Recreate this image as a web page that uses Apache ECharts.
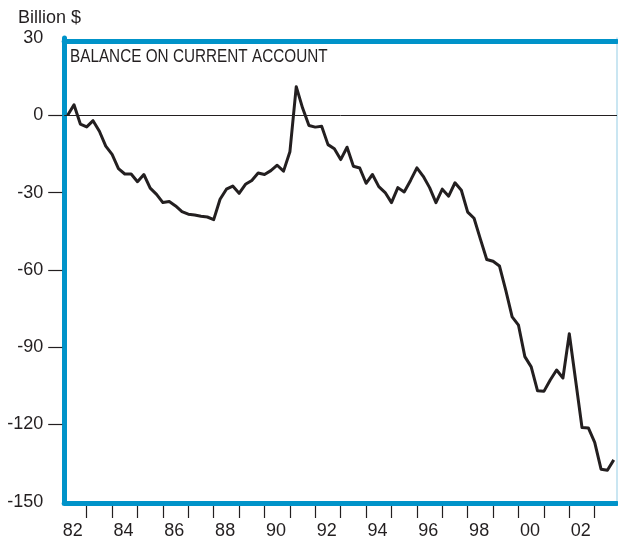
<!DOCTYPE html>
<html><head><meta charset="utf-8">
<script src="https://cdn.jsdelivr.net/npm/echarts@6/dist/echarts.min.js"></script>
<style>html,body{margin:0;padding:0;background:#fff}#c{width:618px;height:544px}</style>
</head><body><div id="c"></div>
<script>
// Quarterly balance on current account, billion $, 1982Q1 .. 2003Q3
const startYear = 1982;
const balance = [
  0.0, 4.1, -3.4, -4.5,
  -2.1, -6.2, -12.0, -15.2,
  -20.7, -22.8, -22.8, -25.8,
  -23.0, -28.3, -30.7, -33.9,
  -33.5, -35.2, -37.4, -38.4,
  -38.7, -39.2, -39.5, -40.5,
  -32.6, -28.7, -27.5, -30.3,
  -26.8, -25.3, -22.4, -23.0,
  -21.5, -19.4, -21.7, -14.2,
  11.1, 2.8, -4.0, -4.6,
  -4.3, -11.4, -13.0, -17.2,
  -12.4, -19.8, -20.5, -26.4,
  -23.0, -27.7, -30.0, -33.9,
  -28.1, -29.8, -25.3, -20.4,
  -23.7, -28.1, -33.9, -28.7,
  -31.4, -26.2, -29.1, -37.6,
  -40.0, -48.1, -56.0, -56.7,
  -58.5, -68.0, -78.3, -81.5,
  -93.7, -97.7, -107.0, -107.2,
  -102.8, -98.9, -102.0, -84.8,
  -103.0, -121.2, -121.4, -127.0,
  -137.4, -137.8, -133.8
];
const yLabelValues = [30, 0, -30, -60, -90, -120, -150];
const yTickValues = [0, -30, -60, -90, -120];
const yearTicks = [1983,1984,1985,1986,1987,1988,1989,1990,1991,1992,1993,1994,1995,1996,1997,1998,1999,2000,2001,2002,2003];
const yearLabels = [1982,1984,1986,1988,1990,1992,1994,1996,1998,2000,2002];
const titleText = 'BALANCE ON CURRENT ACCOUNT';
const unitText = 'Billion $';

const BLUE = '#0093c9';
const INK = '#231f20';
const FONT = '"Liberation Sans", Arial, sans-serif';
const X_MIN = 1982.114, X_MAX = 2003.878;

const points = balance.map((v, i) => [startYear + (i + 1) / 4, v]);

const chart = echarts.init(document.getElementById('c'), null, {renderer: 'canvas'});
const common = {type: 'value', min: X_MIN, max: X_MAX, splitLine: {show: false}};
chart.setOption({
  animation: false,
  backgroundColor: '#fff',
  grid: {left: 64.2, right: 1, top: 38, bottom: 42.4, containLabel: false},
  graphic: [
    {type: 'text', left: 18, top: 9, style: {text: unitText, font: '18px ' + FONT, fill: INK}},
    {type: 'text', x: 70, y: 48.5, scaleX: 0.85, scaleY: 1, originX: 0, originY: 0, z: 10,
      style: {text: titleText, font: '18px ' + FONT, fill: INK}}
  ],
  xAxis: [
    Object.assign({}, common, {
      position: 'bottom', offset: 4.4,
      axisLine: {show: false, onZero: false},
      axisTick: {show: true, length: 12, customValues: yearTicks, lineStyle: {color: INK, width: 1.2}},
      axisLabel: {show: true, margin: 16, fontSize: 18, color: INK, fontFamily: FONT,
        customValues: yearLabels.map(y => y + 0.45),
        formatter: v => String(Math.floor(v) % 100).padStart(2, '0')}
    }),
    Object.assign({}, common, {
      position: 'bottom', offset: 1.9,
      axisLine: {show: true, onZero: false, lineStyle: {color: BLUE, width: 5}},
      axisTick: {show: false}, axisLabel: {show: false}
    }),
    Object.assign({}, common, {
      position: 'top', offset: -2.8,
      axisLine: {show: true, onZero: false, lineStyle: {color: BLUE, width: 5}},
      axisTick: {show: false}, axisLabel: {show: false}
    })
  ],
  yAxis: [
    {
      type: 'value', min: -150, max: 30, interval: 30, position: 'left', offset: 2,
      splitLine: {show: false},
      axisLine: {show: false, onZero: false},
      axisTick: {show: true, length: 14, customValues: yTickValues, lineStyle: {color: INK, width: 1.2}},
      axisLabel: {show: true, margin: 19, fontSize: 18, color: INK, fontFamily: FONT,
        customValues: yLabelValues, padding: [5, 0, 0, 0]}
    },
    {
      type: 'value', min: -149, max: 29.2, position: 'left', offset: 0,
      splitLine: {show: false},
      axisLine: {show: true, onZero: false, lineStyle: {color: BLUE, width: 5}},
      axisTick: {show: false}, axisLabel: {show: false}
    },
    {
      type: 'value', min: -150, max: 30, interval: 30, position: 'right', offset: 0,
      splitLine: {show: false},
      axisLine: {show: true, onZero: false, lineStyle: {color: '#b9deee', width: 1.5}},
      axisTick: {show: false}, axisLabel: {show: false}
    }
  ],
  series: [{
    type: 'line', xAxisIndex: 0, yAxisIndex: 0,
    data: points, symbol: 'none', smooth: false,
    lineStyle: {color: INK, width: 3, join: 'round'},
    markLine: {
      silent: true, symbol: ['none', 'none'], label: {show: false},
      lineStyle: {color: INK, width: 1, type: 'solid'},
      data: [{yAxis: 0}]
    },
    z: 3
  }]
});
</script></body></html>
